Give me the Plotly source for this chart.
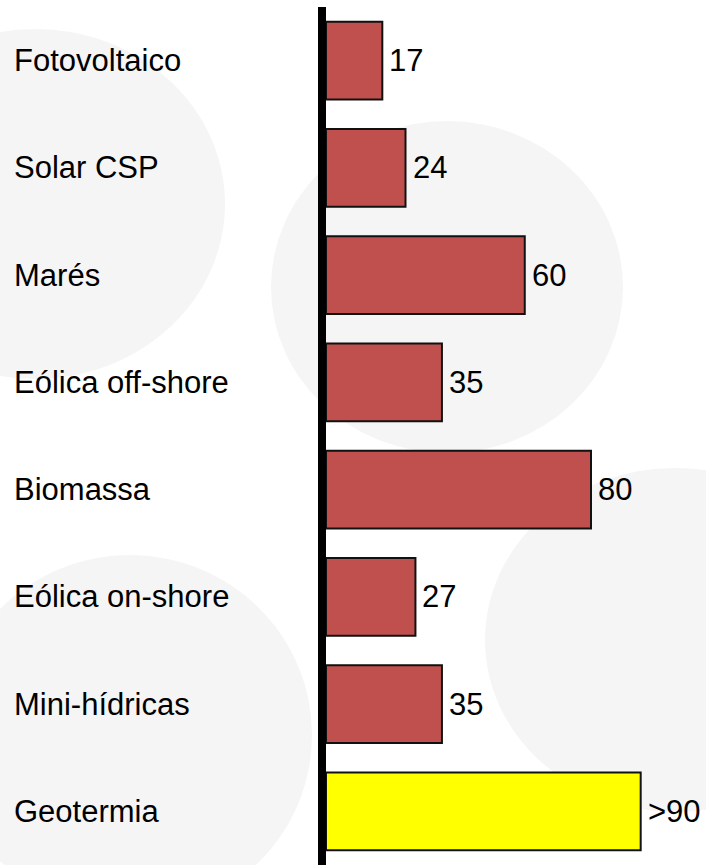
import plotly.graph_objects as go

categories = ["Fotovoltaico", "Solar CSP", "Marés", "Eólica off-shore",
              "Biomassa", "Eólica on-shore", "Mini-hídricas", "Geotermia"]
values = [17, 24, 60, 35, 80, 27, 35, 95]
value_labels = ["17", "24", "60", "35", "80", "27", "35", ">90"]
bar_colors = ["#C0504D"] * 7 + ["#FFFF00"]

W, H = 706, 865
ML, MR, MT, MB = 326, 0, 7, 0
PW, PH = W - ML - MR, H - MT - MB
FONT = "Liberation Sans, Arial, sans-serif"
FS = 31


def px_x(px):
    return (px - ML) / PW


def px_y(py):
    return (H - MB - py) / PH


# decorative background ellipses (pixel centre, radii)
bg_ellipses = [
    (35, 204, 190, 175),
    (447, 287, 176, 166),
    (130, 735, 182, 180),
    (675, 640, 190, 172),
]

shapes = []
for cx, cy, rx, ry in bg_ellipses:
    shapes.append(dict(
        type="circle", xref="paper", yref="paper", layer="below",
        x0=px_x(cx - rx), x1=px_x(cx + rx),
        y0=px_y(cy + ry), y1=px_y(cy - ry),
        fillcolor="#F5F5F5", line=dict(width=0),
    ))

fig = go.Figure(go.Bar(
    x=values, y=categories, orientation="h",
    width=0.727,
    marker=dict(color=bar_colors, line=dict(color="#111111", width=2)),
    cliponaxis=False,
    hoverinfo="skip",
))

annotations = [
    dict(text=c, x=px_x(12), xref="paper", y=c, yref="y",
         xanchor="left", yanchor="middle", showarrow=False,
         font=dict(family=FONT, size=FS, color="#000000"))
    for c in categories
]
annotations += [
    dict(text=t, x=v, xref="x", y=c, yref="y", xshift=5,
         xanchor="left", yanchor="middle", showarrow=False,
         font=dict(family=FONT, size=FS, color="#000000"))
    for c, v, t in zip(categories, values, value_labels)
]

fig.update_layout(
    width=W, height=H,
    margin=dict(l=ML, r=MR, t=MT, b=MB, pad=0),
    paper_bgcolor="#FFFFFF", plot_bgcolor="rgba(0,0,0,0)",
    showlegend=False,
    shapes=shapes, annotations=annotations,
    xaxis=dict(range=[0, PW / 3.3125], visible=False, showgrid=False,
               zeroline=False, fixedrange=True),
    yaxis=dict(type="category", categoryorder="array", categoryarray=categories,
               range=[7.5, -0.5], showline=True, linewidth=8, linecolor="#000000",
               showticklabels=False, ticks="", showgrid=False, zeroline=False,
               fixedrange=True),
)

fig.write_html("out.html", config={"displayModeBar": False},
               post_script="document.body.style.margin='0';document.body.style.padding='0';")
